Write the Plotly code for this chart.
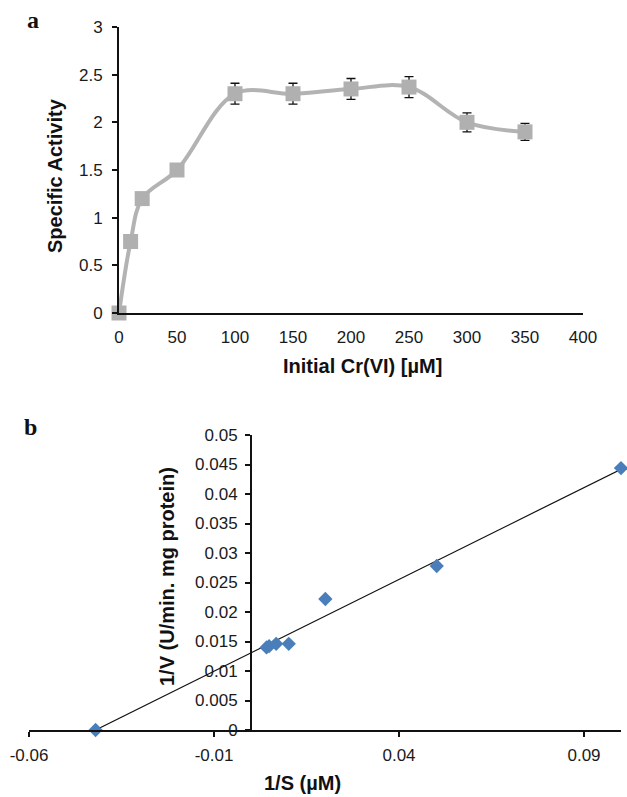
import plotly.graph_objects as go

# ---------------- data: panel a ----------------
conc_uM = [0, 10, 20, 50, 100, 150, 200, 250, 300, 350]
specific_activity = [0, 0.75, 1.2, 1.5, 2.3, 2.3, 2.35, 2.37, 2.0, 1.9]
activity_err = [0, 0.02, 0.03, 0.05, 0.11, 0.11, 0.11, 0.11, 0.1, 0.09]
a_xticks = [0, 50, 100, 150, 200, 250, 300, 350, 400]
a_yticks = [0, 0.5, 1, 1.5, 2, 2.5, 3]
a_yticktext = ["0", "0.5", "1", "1.5", "2", "2.5", "3"]

# ---------------- data: panel b ----------------
inv_S = [-0.042, 0.0042, 0.0049, 0.0068, 0.0102, 0.0201, 0.0502, 0.1]
inv_V = [0.0, 0.0140, 0.0142, 0.0146, 0.0146, 0.0222, 0.0278, 0.0444]
trend_x = [-0.042, 0.1]
trend_y = [0.0, 0.0442]
b_xticks = [-0.06, -0.01, 0.04, 0.09]
b_xticktext = ["-0.06", "-0.01", "0.04", "0.09"]
b_yticks = [0, 0.005, 0.01, 0.015, 0.02, 0.025, 0.03, 0.035, 0.04, 0.045, 0.05]
b_yticktext = ["0", "0.005", "0.01", "0.015", "0.02", "0.025", "0.03", "0.035", "0.04", "0.045", "0.05"]

W, H = 627, 797


def px(x):
    return x / W


def py(y):
    return 1 - y / H


FONT = "Liberation Sans, Arial, sans-serif"
TICKFONT = dict(family=FONT, size=17, color="#1a1a1a")
TITLEFONT = dict(family=FONT, size=20, color="#111")

fig = go.Figure()

fig.add_trace(go.Scatter(
    x=conc_uM, y=specific_activity,
    mode="lines+markers",
    line=dict(color="#b3b3b3", width=4, shape="spline", smoothing=1.0),
    marker=dict(symbol="square", size=15, color="#b0b0b0"),
    error_y=dict(type="data", array=activity_err, visible=True,
                 color="#111", thickness=1.3, width=4.5),
    cliponaxis=False, xaxis="x", yaxis="y", showlegend=False,
))

fig.add_trace(go.Scatter(
    x=trend_x, y=trend_y, mode="lines",
    line=dict(color="#111", width=1.2),
    xaxis="x2", yaxis="y2", showlegend=False, cliponaxis=False,
))
fig.add_trace(go.Scatter(
    x=inv_S, y=inv_V, mode="markers",
    marker=dict(symbol="diamond", size=11, color="#4a7ebb"),
    xaxis="x2", yaxis="y2", showlegend=False, cliponaxis=False,
))

# domains (paper fractions, from page pixel positions)
a_xdom = [px(119), px(583)]
a_ydom = [py(313), py(27)]
b_xdom = [px(29), px(621)]
b_ydom = [py(730), py(435)]
b_xrange = [-0.06, 0.1]
b_ypos = b_xdom[0] + (0 - b_xrange[0]) / (b_xrange[1] - b_xrange[0]) * (b_xdom[1] - b_xdom[0])

common = dict(showline=True, linecolor="#111", linewidth=2, showgrid=False,
              zeroline=False, automargin=False, tickfont=TICKFONT)

fig.update_layout(
    width=W, height=H, autosize=False,
    margin=dict(l=0, r=0, t=0, b=0, pad=0, autoexpand=False),
    paper_bgcolor="white", plot_bgcolor="white",
    xaxis=dict(domain=a_xdom, range=[0, 400], tickvals=a_xticks,
               ticks="", anchor="y", ticklabelstandoff=8, **common),
    yaxis=dict(domain=a_ydom, range=[0, 3], tickvals=a_yticks, ticktext=a_yticktext,
               ticks="outside", ticklen=5, tickwidth=1.5, tickcolor="#111",
               anchor="x", ticklabelstandoff=6, **common),
    xaxis2=dict(domain=b_xdom, range=b_xrange, tickvals=b_xticks, ticktext=b_xticktext,
                ticks="outside", ticklen=5, tickwidth=1.5, tickcolor="#111",
                anchor="y2", ticklabelstandoff=4, **common),
    yaxis2=dict(domain=b_ydom, range=[0, 0.05], tickvals=b_yticks, ticktext=b_yticktext,
                ticks="outside", ticklen=5, tickwidth=1.5, tickcolor="#111",
                anchor="free", position=b_ypos, ticklabelstandoff=4, **common),
)

annots = [
    dict(text="<b>a</b>", x=px(33), y=py(20), font=dict(family="Liberation Serif, serif", size=24, color="#111")),
    dict(text="<b>b</b>", x=px(30), y=py(427), font=dict(family="Liberation Serif, serif", size=24, color="#111")),
    dict(text="<b>Specific Activity</b>", x=px(55), y=py(176), textangle=-90, font=TITLEFONT),
    dict(text="<b>Initial Cr(VI) [µM]</b>", x=px(362), y=py(366), font=TITLEFONT),
    dict(text="<b>1/V (U/min. mg protein)</b>", x=px(167), y=py(577), textangle=-90, font=TITLEFONT),
    dict(text="<b>1/S (µM)</b>", x=px(302), y=py(783), font=TITLEFONT),
]
for a in annots:
    fig.add_annotation(xref="paper", yref="paper", showarrow=False,
                       xanchor="center", yanchor="middle", **a)

fig.write_html(
    "out.html",
    config={"responsive": False, "displayModeBar": False},
    post_script="document.body.style.margin='0';document.body.style.overflow='hidden';",
)
